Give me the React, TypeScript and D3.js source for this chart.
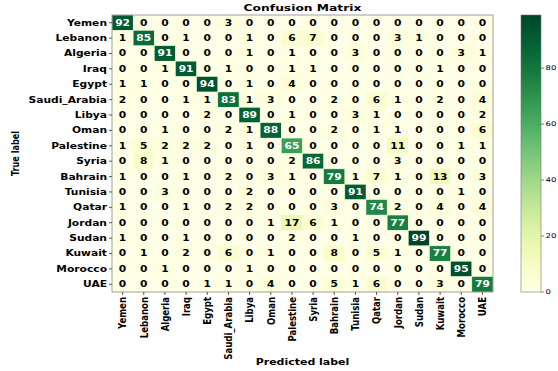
import React from "react";
import * as d3 from "d3";

const labels = ["Yemen","Lebanon","Algeria","Iraq","Egypt","Saudi_Arabia","Libya","Oman","Palestine","Syria","Bahrain","Tunisia","Qatar","Jordan","Sudan","Kuwait","Morocco","UAE"];

const matrix: number[][] = [
  [92,0,0,0,0,3,0,0,0,0,0,0,0,0,0,0,0,0],
  [1,85,0,1,0,0,1,0,6,7,0,0,0,3,1,0,0,0],
  [0,0,91,0,0,0,1,0,1,0,0,3,0,0,0,0,3,1],
  [0,0,1,91,0,1,0,0,1,1,0,0,0,0,0,1,0,0],
  [1,1,0,0,94,0,1,0,4,0,0,0,0,0,0,0,0,0],
  [2,0,0,1,1,83,1,3,0,0,2,0,6,1,0,2,0,4],
  [0,0,0,0,2,0,89,0,1,0,0,3,1,0,0,0,0,2],
  [0,0,1,0,0,2,1,88,0,0,2,0,1,1,0,0,0,6],
  [1,5,2,2,2,0,1,0,65,0,0,0,0,11,0,0,1,1],
  [0,8,1,0,0,0,0,0,2,86,0,0,0,3,0,0,0,0],
  [1,0,0,1,0,2,0,3,1,0,79,1,7,1,0,13,0,3],
  [0,0,3,0,0,0,2,0,0,0,0,91,0,0,0,0,1,0],
  [1,0,0,1,0,2,2,0,0,0,3,0,74,2,0,4,0,4],
  [0,0,0,0,0,0,0,1,17,6,1,0,0,77,0,0,0,0],
  [1,0,0,1,0,0,0,0,2,0,0,1,0,0,99,0,0,0],
  [0,1,0,2,0,6,0,1,0,0,8,0,5,1,0,77,0,0],
  [0,0,1,0,0,0,1,0,0,0,0,0,0,0,0,0,95,0],
  [0,0,0,0,1,1,0,4,0,0,5,1,6,0,0,3,0,79],
];

const cbTicks = [0, 20, 40, 60, 80];

const K = 0.76; // vertical squash of the reference picture

function HText(props: { x: number; y: number; size: number; anchor?: string; bold?: boolean; fill?: string; middle?: boolean; children: any }) {
  const { x, y, size, anchor = "start", bold = true, fill = "#000", middle = false } = props;
  return (
    <text transform={`translate(${x},${y}) scale(1,${K})`} textAnchor={anchor} dy={middle ? "0.36em" : undefined}
      fontSize={size} fontWeight={bold ? "bold" : "normal"} fill={fill}>{props.children}</text>
  );
}

export default function App() {
  const W = 558, H = 371;
  const left = 112, right = 493, top = 15, bottom = 292;
  const x = d3.scaleBand<string>().domain(labels).range([left, right]);
  const y = d3.scaleBand<string>().domain(labels).range([top, bottom]);
  const vmax = d3.max(matrix.flat()) as number;
  const color = d3.scaleSequential(d3.interpolateYlGn).domain([0, vmax]);
  const cbX = 521, cbW = 20;
  const cbY = d3.scaleLinear().domain([0, vmax]).range([bottom, top]);
  const stops = d3.range(0, 1.0001, 0.05);
  const font = "DejaVu Sans, sans-serif";
  const F = 10.7;

  return (
    <svg width={W} height={H} style={{ position: "absolute", left: 0, top: 0 }} fontFamily={font}>
      <defs>
        <linearGradient id="cb" x1="0" y1="1" x2="0" y2="0">
          {stops.map((s, i) => (
            <stop key={i} offset={s} stopColor={d3.interpolateYlGn(s)} />
          ))}
        </linearGradient>
      </defs>
      <HText x={(left + right) / 2} y={11} size={12.3} anchor="middle">Confusion Matrix</HText>
      {matrix.map((row, i) =>
        row.map((v, j) => (
          <g key={`${i}-${j}`}>
            <rect x={x(labels[j])} y={y(labels[i])} width={x.bandwidth()} height={y.bandwidth()}
              fill={color(v)} stroke={i === j ? "#e8f5d8" : "none"} strokeWidth={0.5} />
            <HText x={(x(labels[j]) as number) + x.bandwidth() / 2} y={(y(labels[i]) as number) + y.bandwidth() / 2}
              size={F} anchor="middle" middle fill={v > vmax / 2 ? "#ffffff" : "#000000"}>{v}</HText>
          </g>
        ))
      )}
      <rect x={left} y={top} width={right - left} height={bottom - top} fill="none" stroke="#888" strokeWidth={0.8} />
      {labels.map((l) => {
        const cy = (y(l) as number) + y.bandwidth() / 2;
        return (
          <g key={"y" + l}>
            <line x1={left - 3} x2={left} y1={cy} y2={cy} stroke="#333" strokeWidth={0.8} />
            <HText x={left - 5} y={cy} size={F} anchor="end" middle>{l}</HText>
          </g>
        );
      })}
      {labels.map((l) => {
        const cx = (x(l) as number) + x.bandwidth() / 2;
        return (
          <g key={"x" + l}>
            <line x1={cx} x2={cx} y1={bottom} y2={bottom + 3} stroke="#333" strokeWidth={0.8} />
            <text transform={`translate(${cx},${bottom + 5}) rotate(-90) scale(0.8,1)`} dy="0.36em" textAnchor="end"
              fontSize={F} fontWeight="bold">{l}</text>
          </g>
        );
      })}
      <text transform={`translate(18.5,${(top + bottom) / 2}) rotate(-90) scale(${K},1)`} textAnchor="middle"
        fontSize={F} fontWeight="bold">True label</text>
      <HText x={(left + right) / 2} y={365} size={11} anchor="middle">Predicted label</HText>
      <rect x={cbX} y={top} width={cbW} height={bottom - top} fill="url(#cb)" stroke="#777" strokeWidth={0.6} />
      {cbTicks.map((t) => (
        <g key={"cb" + t}>
          <line x1={cbX + cbW} x2={cbX + cbW + 3} y1={cbY(t)} y2={cbY(t)} stroke="#333" strokeWidth={0.6} />
          <HText x={cbX + cbW + 4.5} y={cbY(t)} size={8.5} bold={false} middle>{t}</HText>
        </g>
      ))}
    </svg>
  );
}
